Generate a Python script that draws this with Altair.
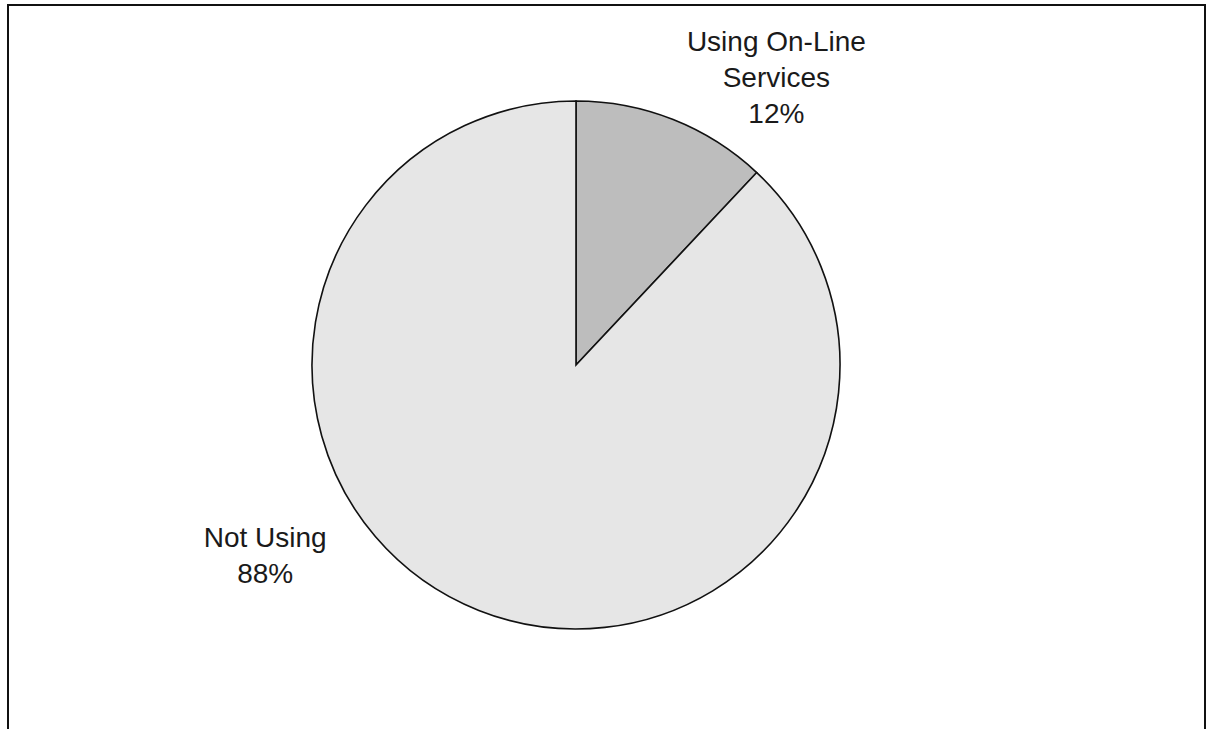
import altair as alt
import pandas as pd

categories = ["Using On-Line Services", "Not Using"]
values = [12, 88]
labels = ["Using On-Line\nServices\n12%", "Not Using\n88%"]
colors = ["#bdbdbd", "#e6e6e6"]

df = pd.DataFrame({"category": categories, "value": values, "label": labels, "order": [0, 1]})

W, H = 1209, 729
CX, CY, R = 576, 365, 264
theta_scale = alt.Scale(domain=[0, 100])

pie = alt.Chart(df).mark_arc(outerRadius=R, stroke="#111111", strokeWidth=1.6).encode(
    theta=alt.Theta("value:Q", stack=True, scale=theta_scale),
    order=alt.Order("order:Q"),
    color=alt.Color("category:N", scale=alt.Scale(domain=categories, range=colors), legend=None),
    x=alt.value(CX),
    y=alt.value(CY),
)

txt_style = dict(font="Liberation Sans", fontSize=28, lineBreak="\n", lineHeight=36,
                 align="center", baseline="middle", color="#1a1a1a")

lab_base = alt.Chart(df).transform_stack(
    stack="value", groupby=[], as_=["s0", "s1"], sort=[alt.SortField("order")]
).transform_calculate(mid="(datum.s0 + datum.s1) / 2")


def label_layer(idx, radius, dx):
    return lab_base.transform_filter(alt.datum.order == idx).mark_text(
        radius=radius, dx=dx, **txt_style
    ).encode(
        theta=alt.Theta("mid:Q", stack=None, scale=theta_scale),
        text="label:N",
        x=alt.value(CX),
        y=alt.value(CY),
    )


lab_top = label_layer(0, 346, 73)
lab_bot = label_layer(1, 187, -242)

frame = alt.Chart(df).transform_filter(alt.datum.order == 0).mark_rect(
    fill=None, stroke="#111111", strokeWidth=2
).encode(
    x=alt.value(8), x2=alt.value(1205), y=alt.value(5), y2=alt.value(760)
)

chart = alt.layer(frame, pie, lab_top, lab_bot).properties(
    width=W, height=H, autosize=alt.AutoSizeParams(type="none"), padding=0,
    background="white"
).configure_view(stroke=None)

chart.save("out.html", embed_options={"renderer": "svg", "actions": False})
